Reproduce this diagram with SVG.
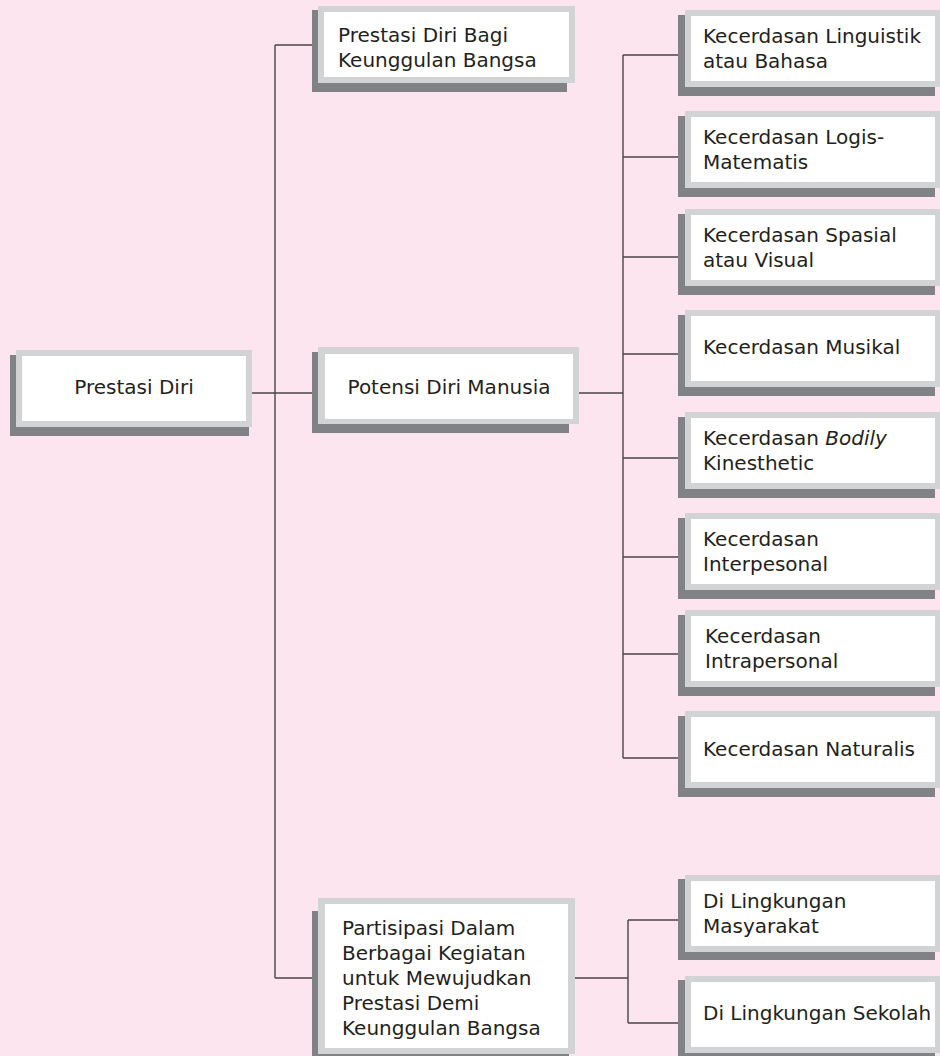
<svg xmlns="http://www.w3.org/2000/svg" width="940" height="1056" viewBox="0 0 940 1056">
<style>
.sh{fill:#818285}
.bd{fill:#d1d3d4}
.in{fill:#ffffff}
.t{font-family:"DejaVu Sans","Liberation Sans",sans-serif;font-size:20px;fill:#231f20}
.c{text-anchor:middle}
.ln{fill:none;stroke:#4a4547;stroke-width:1.4}
</style>
<rect x="0" y="0" width="940" height="1056" fill="#fce5ef"/>
<g id="connectors" class="ln">
<path d="M275 45V978"/>
<path d="M275 45H312"/>
<path d="M252 393H312"/>
<path d="M275 978H314"/>
<path d="M579 393H623"/>
<path d="M623 55V758"/>
<path d="M623 55H678M623 157H678M623 257H678M623 354H678M623 458H678M623 557H678M623 654H678M623 758H678"/>
<path d="M575 978H628"/>
<path d="M628 920V1023"/>
<path d="M628 920H678M628 1023H678"/>
</g>
<g id="n-prestasi-diri">
<rect class="sh" x="10" y="355" width="239" height="81"/>
<rect class="bd" x="16" y="350" width="236" height="77"/>
<rect class="in" x="22" y="356" width="224" height="65"/>
<text class="t c" x="134" y="394">Prestasi Diri</text>
</g>
<g id="n-bagi">
<rect class="sh" x="312" y="10" width="255" height="82"/>
<rect class="bd" x="318" y="6" width="257" height="77"/>
<rect class="in" x="324" y="12" width="245" height="65"/>
<text class="t" x="338" y="42">Prestasi Diri Bagi</text>
<text class="t" x="338" y="67">Keunggulan Bangsa</text>
</g>
<g id="n-potensi">
<rect class="sh" x="312" y="352" width="257" height="81"/>
<rect class="bd" x="318" y="347" width="261" height="77"/>
<rect class="in" x="325" y="354" width="248" height="65"/>
<text class="t c" x="449" y="394">Potensi Diri Manusia</text>
</g>
<g id="n-partisipasi">
<rect class="sh" x="312" y="911" width="257" height="150"/>
<rect class="bd" x="318" y="898" width="257" height="156"/>
<rect class="in" x="325" y="904" width="243" height="144"/>
<text class="t" x="342" y="935">Partisipasi Dalam</text>
<text class="t" x="342" y="960">Berbagai Kegiatan</text>
<text class="t" x="342" y="985">untuk Mewujudkan</text>
<text class="t" x="342" y="1010">Prestasi Demi</text>
<text class="t" x="342" y="1035">Keunggulan Bangsa</text>
</g>
<g id="n-linguistik">
<rect class="sh" x="678" y="15" width="257" height="81"/>
<rect class="bd" x="685" y="10" width="256" height="77"/>
<rect class="in" x="691" y="16" width="244" height="65"/>
<text class="t" x="703" y="43">Kecerdasan Linguistik</text>
<text class="t" x="703" y="68">atau Bahasa</text>
</g>
<g id="n-logis">
<rect class="sh" x="678" y="116" width="257" height="81"/>
<rect class="bd" x="685" y="111" width="256" height="77"/>
<rect class="in" x="691" y="117" width="244" height="65"/>
<text class="t" x="703" y="144">Kecerdasan Logis-</text>
<text class="t" x="703" y="169">Matematis</text>
</g>
<g id="n-spasial">
<rect class="sh" x="678" y="214" width="257" height="81"/>
<rect class="bd" x="685" y="209" width="256" height="77"/>
<rect class="in" x="691" y="215" width="244" height="65"/>
<text class="t" x="703" y="242">Kecerdasan Spasial</text>
<text class="t" x="703" y="267">atau Visual</text>
</g>
<g id="n-musikal">
<rect class="sh" x="678" y="315" width="257" height="81"/>
<rect class="bd" x="685" y="310" width="256" height="77"/>
<rect class="in" x="691" y="316" width="244" height="65"/>
<text class="t" x="703" y="354">Kecerdasan Musikal</text>
</g>
<g id="n-bodily">
<rect class="sh" x="678" y="417" width="257" height="81"/>
<rect class="bd" x="685" y="412" width="256" height="77"/>
<rect class="in" x="691" y="418" width="244" height="65"/>
<text class="t" x="703" y="445">Kecerdasan <tspan font-style="italic">Bodily</tspan></text>
<text class="t" x="703" y="470">Kinesthetic</text>
</g>
<g id="n-interpesonal">
<rect class="sh" x="678" y="518" width="257" height="81"/>
<rect class="bd" x="685" y="513" width="256" height="77"/>
<rect class="in" x="691" y="519" width="244" height="65"/>
<text class="t" x="703" y="546">Kecerdasan</text>
<text class="t" x="703" y="571">Interpesonal</text>
</g>
<g id="n-intrapersonal">
<rect class="sh" x="678" y="615" width="257" height="81"/>
<rect class="bd" x="685" y="610" width="256" height="77"/>
<rect class="in" x="691" y="616" width="244" height="65"/>
<text class="t" x="705" y="643">Kecerdasan</text>
<text class="t" x="705" y="668">Intrapersonal</text>
</g>
<g id="n-naturalis">
<rect class="sh" x="678" y="716" width="257" height="81"/>
<rect class="bd" x="685" y="711" width="256" height="77"/>
<rect class="in" x="691" y="717" width="244" height="65"/>
<text class="t" x="703" y="756">Kecerdasan Naturalis</text>
</g>
<g id="n-masyarakat">
<rect class="sh" x="678" y="879" width="257" height="81"/>
<rect class="bd" x="685" y="875" width="256" height="77"/>
<rect class="in" x="691" y="881" width="244" height="65"/>
<text class="t" x="703" y="908">Di Lingkungan</text>
<text class="t" x="703" y="933">Masyarakat</text>
</g>
<g id="n-sekolah">
<rect class="sh" x="678" y="980" width="257" height="81"/>
<rect class="bd" x="685" y="976" width="256" height="77"/>
<rect class="in" x="691" y="982" width="244" height="65"/>
<text class="t" x="703" y="1020">Di Lingkungan Sekolah</text>
</g>
</svg>
